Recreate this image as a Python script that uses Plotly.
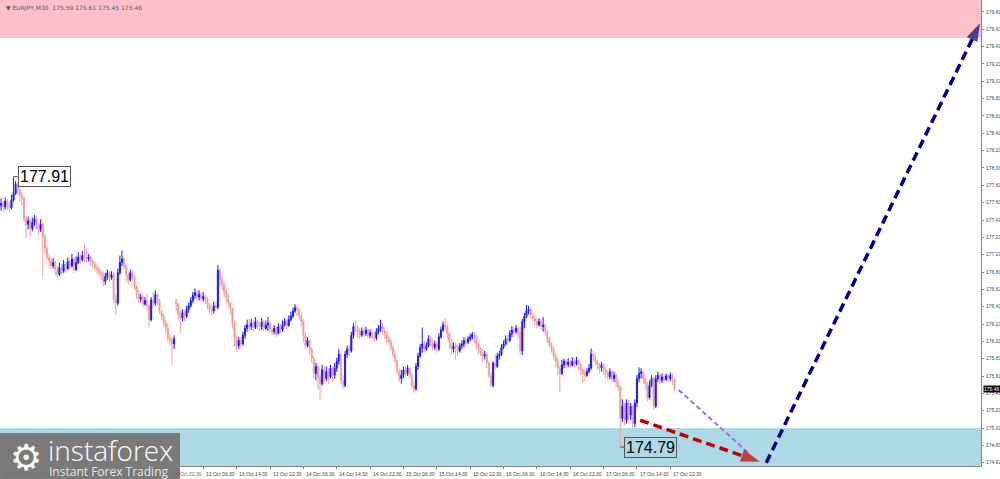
import numpy as np
import pandas as pd
import plotly.graph_objects as go

# EURJPY M30 bars, 9 Oct 06:00 .. 17 Oct 23:30 (weekdays only)
bar_times = pd.date_range("2025-10-09 06:00", "2025-10-17 23:30", freq="30min")
bar_times = bar_times[bar_times.dayofweek < 5]

closes = [
    177.60, 177.56, 177.63, 177.58, 177.55, 177.64, 177.72, 177.82, 177.76, 177.70,
    177.66, 177.42, 177.36, 177.40, 177.31, 177.38, 177.42, 177.35, 177.30, 177.36,
    177.22, 177.08, 176.98, 176.94, 176.88, 176.92, 176.84, 176.78, 176.86, 176.82,
    176.90, 176.85, 176.93, 176.88, 176.96, 176.84, 176.92, 176.98, 176.95, 177.00,
    176.99, 176.96, 176.98, 176.93, 176.90, 176.86, 176.84, 176.80, 176.78, 176.70,
    176.76, 176.80, 176.74, 176.78, 176.50, 176.45, 176.80, 176.92, 176.96, 176.88,
    176.78, 176.72, 176.80, 176.76, 176.64, 176.56, 176.50, 176.52, 176.44, 176.48,
    176.42, 176.26, 176.49, 176.45, 176.55, 176.48, 176.36, 176.30, 176.22, 176.16,
    176.05, 176.02, 175.98, 176.04, 176.44, 176.32, 176.28, 176.34, 176.30, 176.38,
    176.42, 176.48, 176.54, 176.57, 176.52, 176.55, 176.50, 176.53, 176.49, 176.44,
    176.38, 176.36, 176.42, 176.40, 176.83, 176.72, 176.66, 176.58, 176.52, 176.45,
    176.38, 176.22, 176.05, 175.96, 176.02, 175.98, 176.08, 176.16, 176.20, 176.18,
    176.22, 176.17, 176.24, 176.20, 176.18, 176.23, 176.16, 176.20, 176.22, 176.15,
    176.12, 176.16, 176.10, 176.18, 176.14, 176.20, 176.24, 176.19, 176.26, 176.30,
    176.36, 176.40, 176.38, 176.30, 176.24, 176.08, 175.96, 176.02, 175.92, 175.82,
    175.64, 175.72, 175.60, 175.52, 175.68, 175.58, 175.66, 175.60, 175.70, 175.62,
    175.70, 175.78, 175.86, 175.56, 175.50, 175.86, 175.92, 175.90, 176.08, 176.18,
    176.16, 176.12, 176.08, 176.13, 176.10, 176.14, 176.08, 176.11, 176.06, 176.05,
    176.12, 176.16, 176.18, 176.13, 176.10, 176.04, 176.00, 175.94, 175.86, 175.78,
    175.66, 175.58, 175.62, 175.68, 175.64, 175.70, 175.62, 175.50, 175.46, 175.72,
    175.84, 175.94, 175.98, 175.92, 175.96, 176.04, 176.00, 175.94, 175.98, 175.92,
    176.06, 176.14, 176.20, 176.18, 176.10, 176.00, 175.92, 175.96, 175.94, 175.90,
    175.96, 175.98, 176.02, 176.00, 176.04, 176.06, 176.09, 176.06, 175.98, 175.92,
    175.88, 175.84, 175.86, 175.76, 175.62, 175.50, 175.76, 175.72, 175.84, 175.86,
    175.94, 175.98, 176.04, 176.02, 176.10, 176.14, 176.12, 176.16, 176.10, 175.90,
    176.24, 176.30, 176.36, 176.38, 176.32, 176.28, 176.24, 176.20, 176.24, 176.18,
    176.20, 176.12, 176.04, 175.98, 175.92, 175.84, 175.78, 175.70, 175.64, 175.74,
    175.78, 175.74, 175.77, 175.73, 175.78, 175.75, 175.79, 175.74, 175.68, 175.64,
    175.62, 175.66, 175.70, 175.86, 175.84, 175.78, 175.74, 175.70, 175.74, 175.68,
    175.64, 175.60, 175.66, 175.58, 175.62, 175.54, 175.48, 175.12, 175.26, 175.10,
    175.30, 175.16, 175.26, 175.06, 175.30, 175.58, 175.64, 175.66, 175.58, 175.52,
    175.36, 175.50, 175.58, 175.26, 175.58, 175.62, 175.56, 175.60, 175.57, 175.61,
    175.58, 175.62, 175.57, 175.46,
]

highs = [
    177.66, 177.63, 177.67, 177.65, 177.62, 177.70, 177.91, 177.86, 177.84, 177.78,
    177.73, 177.68, 177.46, 177.45, 177.42, 177.44, 177.47, 177.45, 177.38, 177.42,
    177.38, 177.25, 177.12, 177.02, 176.98, 176.97, 176.95, 176.88, 176.92, 176.90,
    176.95, 176.93, 176.98, 176.96, 177.02, 176.98, 176.99, 177.04, 177.02, 177.05,
    177.14, 177.08, 177.02, 177.00, 176.96, 176.93, 176.90, 176.87, 176.84, 176.82,
    176.80, 176.84, 176.82, 176.82, 176.80, 176.55, 176.85, 177.00, 177.06, 176.98,
    176.90, 176.82, 176.84, 176.83, 176.78, 176.66, 176.60, 176.56, 176.54, 176.52,
    176.56, 176.45, 176.52, 176.58, 176.60, 176.57, 176.50, 176.38, 176.33, 176.26,
    176.22, 176.10, 176.06, 176.08, 176.50, 176.46, 176.36, 176.38, 176.36, 176.42,
    176.46, 176.52, 176.58, 176.62, 176.60, 176.60, 176.58, 176.58, 176.55, 176.52,
    176.46, 176.42, 176.47, 176.46, 176.89, 176.85, 176.76, 176.70, 176.62, 176.56,
    176.47, 176.40, 176.25, 176.08, 176.06, 176.06, 176.12, 176.20, 176.26, 176.27,
    176.27, 176.25, 176.29, 176.27, 176.24, 176.28, 176.26, 176.25, 176.29, 176.24,
    176.18, 176.20, 176.18, 176.22, 176.21, 176.25, 176.28, 176.27, 176.31, 176.35,
    176.40, 176.44, 176.43, 176.40, 176.33, 176.27, 176.12, 176.06, 176.04, 175.94,
    175.84, 175.76, 175.76, 175.64, 175.74, 175.72, 175.72, 175.70, 175.74, 175.72,
    175.76, 175.82, 175.92, 175.88, 175.62, 175.90, 175.96, 175.96, 176.12, 176.22,
    176.26, 176.20, 176.16, 176.17, 176.16, 176.18, 176.16, 176.15, 176.13, 176.12,
    176.16, 176.20, 176.26, 176.22, 176.17, 176.13, 176.08, 176.04, 175.97, 175.90,
    175.80, 175.70, 175.68, 175.72, 175.72, 175.74, 175.72, 175.66, 175.54, 175.76,
    175.88, 175.98, 176.17, 176.02, 176.00, 176.08, 176.07, 176.04, 176.02, 176.00,
    176.10, 176.18, 176.24, 176.28, 176.22, 176.12, 176.04, 176.00, 175.99, 175.97,
    175.99, 176.02, 176.06, 176.05, 176.07, 176.10, 176.12, 176.12, 176.08, 176.00,
    175.94, 175.92, 175.90, 175.88, 175.78, 175.66, 175.78, 175.86, 175.88, 175.90,
    175.98, 176.02, 176.08, 176.08, 176.14, 176.19, 176.18, 176.20, 176.18, 176.18,
    176.27, 176.34, 176.43, 176.42, 176.40, 176.34, 176.30, 176.27, 176.28, 176.27,
    176.29, 176.22, 176.14, 176.06, 176.00, 175.95, 175.88, 175.82, 175.74, 175.80,
    175.81, 175.80, 175.82, 175.79, 175.83, 175.81, 175.83, 175.80, 175.76, 175.71,
    175.68, 175.70, 175.75, 175.93, 175.90, 175.86, 175.80, 175.76, 175.77, 175.76,
    175.72, 175.68, 175.70, 175.68, 175.66, 175.64, 175.58, 175.50, 175.34, 175.30,
    175.34, 175.33, 175.30, 175.28, 175.34, 175.62, 175.71, 175.70, 175.68, 175.62,
    175.54, 175.56, 175.62, 175.60, 175.62, 175.66, 175.64, 175.64, 175.63, 175.64,
    175.63, 175.65, 175.64, 175.59,
]

lows = [
    177.52, 177.50, 177.53, 177.52, 177.50, 177.53, 177.62, 177.70, 177.70, 177.62,
    177.58, 177.38, 177.20, 177.30, 177.22, 177.28, 177.34, 177.30, 177.24, 177.27,
    176.75, 177.02, 176.94, 176.86, 176.84, 176.85, 176.77, 176.74, 176.76, 176.78,
    176.80, 176.80, 176.83, 176.83, 176.86, 176.80, 176.82, 176.90, 176.90, 176.93,
    176.92, 176.92, 176.93, 176.88, 176.85, 176.82, 176.79, 176.76, 176.72, 176.64,
    176.66, 176.72, 176.70, 176.72, 176.45, 176.31, 176.42, 176.78, 176.88, 176.84,
    176.70, 176.66, 176.70, 176.72, 176.60, 176.50, 176.45, 176.46, 176.40, 176.42,
    176.36, 176.17, 176.24, 176.40, 176.42, 176.43, 176.33, 176.25, 176.18, 176.10,
    176.00, 175.96, 175.74, 175.92, 176.36, 176.26, 176.11, 176.24, 176.24, 176.28,
    176.34, 176.40, 176.45, 176.50, 176.48, 176.48, 176.46, 176.47, 176.44, 176.38,
    176.32, 176.30, 176.33, 176.36, 176.38, 176.66, 176.60, 176.52, 176.45, 176.40,
    176.32, 176.16, 175.95, 175.89, 175.92, 175.94, 175.96, 176.04, 176.12, 176.12,
    176.14, 176.12, 176.15, 176.15, 176.12, 176.14, 176.12, 176.14, 176.13, 176.10,
    176.08, 176.09, 176.06, 176.09, 176.10, 176.12, 176.18, 176.15, 176.18, 176.24,
    176.28, 176.34, 176.30, 176.26, 176.18, 176.00, 175.92, 175.94, 175.86, 175.76,
    175.58, 175.56, 175.45, 175.33, 175.50, 175.54, 175.55, 175.52, 175.58, 175.54,
    175.58, 175.66, 175.74, 175.52, 175.46, 175.48, 175.82, 175.84, 175.88, 176.04,
    176.12, 176.06, 176.04, 176.06, 176.06, 176.07, 176.04, 176.05, 176.02, 176.00,
    176.02, 176.09, 176.12, 176.08, 176.04, 175.99, 175.96, 175.90, 175.82, 175.74,
    175.62, 175.54, 175.52, 175.58, 175.60, 175.61, 175.58, 175.46, 175.42, 175.44,
    175.68, 175.82, 175.88, 175.88, 175.90, 175.94, 175.96, 175.90, 175.91, 175.88,
    175.90, 176.04, 176.12, 176.14, 176.04, 175.92, 175.86, 175.88, 175.80, 175.84,
    175.88, 175.92, 175.94, 175.96, 175.98, 176.01, 176.03, 175.98, 175.92, 175.86,
    175.84, 175.76, 175.80, 175.70, 175.58, 175.48, 175.48, 175.68, 175.70, 175.80,
    175.84, 175.92, 175.96, 175.97, 176.00, 176.06, 176.06, 176.10, 176.04, 175.86,
    175.85, 176.16, 176.28, 176.32, 176.27, 176.24, 176.19, 176.16, 176.18, 176.14,
    176.12, 176.08, 175.99, 175.94, 175.88, 175.80, 175.72, 175.62, 175.42, 175.62,
    175.70, 175.70, 175.71, 175.70, 175.72, 175.71, 175.73, 175.67, 175.62, 175.53,
    175.55, 175.60, 175.64, 175.68, 175.78, 175.74, 175.68, 175.64, 175.66, 175.62,
    175.58, 175.56, 175.57, 175.54, 175.54, 175.48, 175.44, 174.79, 175.08, 175.04,
    175.06, 175.08, 175.10, 175.01, 175.02, 175.25, 175.54, 175.58, 175.52, 175.46,
    175.32, 175.34, 175.48, 175.22, 175.24, 175.54, 175.52, 175.53, 175.53, 175.55,
    175.54, 175.55, 175.50, 175.44,
]

first_open = 177.58
monday_gap_open = 176.49   # 13 Oct 00:00, price gapped after the weekend

# forecast zones
resistance_zone = [179.51, 180.10]
support_zone = [174.40, 175.01]

# forecast paths: (bar number, price)
purple_path = [(325, 175.45), (358.5, 174.72)]
red_path = [(306.5, 175.10), (364, 174.62)]
navy_path = [(367, 174.61), (469.5, 179.68)]

y_ticks = [round(174.61 + 0.2 * k, 2) for k in range(27)]
label_times = ["06:30", "14:30", "22:30"]

# ------------------------------------------------------------------
idx = list(range(len(closes)))
opens = [first_open] + closes[:-1]
gap_bar = list(bar_times).index(pd.Timestamp("2025-10-13 00:00"))
opens[gap_bar] = monday_gap_open
highs = [max(h, o, c) for h, o, c in zip(highs, opens, closes)]
lows = [min(l, o, c) for l, o, c in zip(lows, opens, closes)]
i_hi = highs.index(max(highs))
i_lo = lows.index(min(lows))

fig = go.Figure()

fig.add_trace(go.Candlestick(
    x=idx, open=opens, high=highs, low=lows, close=closes,
    increasing=dict(line=dict(color="#1a1aff", width=1), fillcolor="#0000ff"),
    decreasing=dict(line=dict(color="#f2a0a0", width=1), fillcolor="#f08a8a"),
    whiskerwidth=0,
))

def add_path(path, color, width, dash, head):
    xs = [p[0] for p in path]
    ys = [p[1] for p in path]
    fig.add_trace(go.Scatter(
        x=xs, y=ys, mode="lines+markers" if head else "lines",
        line=dict(color=color, width=width, dash=dash),
        marker=dict(symbol="arrow", size=[0, head], angleref="previous",
                    color=color, line=dict(width=0)),
        cliponaxis=False, hoverinfo="skip",
    ))

add_path(purple_path, "#9b6fe0", 2, "5px,3px", 0)
add_path(red_path, "#c00000", 3.5, "9px,5px", 20)
add_path(navy_path, "#000080", 3.5, "9px,5px", 19)

LOGO_W = 180 / 981
shapes = [
    dict(type="rect", xref="paper", yref="y", x0=0, x1=1,
         y0=resistance_zone[0], y1=resistance_zone[1],
         fillcolor="#ffc0cb", line=dict(width=0), layer="below"),
    dict(type="rect", xref="paper", yref="y", x0=0, x1=1,
         y0=support_zone[0], y1=support_zone[1],
         fillcolor="#add8e6", line=dict(width=0), layer="below"),
    # connectors for the extreme labels
    dict(type="line", x0=i_hi, x1=i_hi + 2, y0=highs[i_hi], y1=highs[i_hi],
         line=dict(color="#555", width=1)),
    dict(type="line", x0=i_lo, x1=i_lo + 2, y0=lows[i_lo], y1=lows[i_lo],
         line=dict(color="#555", width=1)),
    # logo plate
    dict(type="rect", xref="paper", yref="paper", x0=0, x1=LOGO_W,
         y0=-13 / 466, y1=33 / 466, fillcolor="#7a7a7a",
         line=dict(width=0), layer="above"),
]

annotations = [
    dict(x=i_hi + 2, y=highs[i_hi], text=f"{highs[i_hi]:.2f}", showarrow=False,
         xanchor="left",
         font=dict(family="Liberation Sans", size=16, color="black"),
         bgcolor="white", bordercolor="#555", borderwidth=1, borderpad=1),
    dict(x=i_lo + 2, y=lows[i_lo], text=f"{lows[i_lo]:.2f}", showarrow=False,
         xanchor="left",
         font=dict(family="Liberation Sans", size=16, color="black"),
         bordercolor="#555", borderwidth=1, borderpad=1),
    dict(xref="paper", yref="paper", x=0.004, y=0.995, xanchor="left", yanchor="top",
         text="▼ EURJPY,M30  175.59 175.61 175.45 175.46", showarrow=False,
         font=dict(family="DejaVu Sans", size=6, color="#555")),
    dict(xref="paper", yref="y", x=1.002, y=closes[-1], xanchor="left",
         text=f"{closes[-1]:.2f}", showarrow=False, bgcolor="black", borderpad=0,
         font=dict(family="Liberation Sans", size=5, color="white")),
]

# time labels, left aligned at their tick like the terminal does
tick_idx = [i for i, t in enumerate(bar_times) if t.strftime("%H:%M") in label_times]
for i in tick_idx:
    t = bar_times[i]
    under_logo = i < LOGO_W * 470
    annotations.append(dict(
        x=i + 0.3, xref="x", yref="paper", y=-0.006, xanchor="left", yanchor="top",
        text=f"{t.day} {t:%b %H:%M}", showarrow=False,
        font=dict(family="Liberation Sans", size=5,
                  color="#6c6c6c" if under_logo else "#444")))

# logo texts
annotations += [
    dict(xref="paper", yref="paper", x=8 / 981, y=(466 - 457) / 466,
         xanchor="left", yanchor="middle", text="⚙", showarrow=False,
         font=dict(family="DejaVu Sans", size=36, color="white")),
    dict(xref="paper", yref="paper", x=46 / 981, y=(466 - 450) / 466,
         xanchor="left", yanchor="middle", text="instaforex", showarrow=False,
         font=dict(family="Open Sans", size=28, color="white", weight=300)),
    dict(xref="paper", yref="paper", x=47 / 981, y=(466 - 471) / 466,
         xanchor="left", yanchor="middle", text="Instant Forex Trading",
         showarrow=False, font=dict(family="Open Sans", size=12, color="#e8e8e8")),
]

fig.update_layout(
    width=1000, height=479,
    margin=dict(l=0, r=19, t=0, b=13, autoexpand=False),
    paper_bgcolor="white", plot_bgcolor="white",
    showlegend=False,
    shapes=shapes, annotations=annotations,
    xaxis=dict(range=[-0.5, 470], rangeslider=dict(visible=False),
               showgrid=False, zeroline=False, showline=True, linecolor="#888",
               tickvals=tick_idx, ticks="outside", ticklen=2, tickcolor="#888",
               showticklabels=False),
    yaxis=dict(range=[174.572, 179.948], side="right", showgrid=False,
               zeroline=False, showline=True, linecolor="#888",
               tickvals=y_ticks, ticktext=[f"{v:.2f}" for v in y_ticks],
               ticks="outside", ticklen=2, tickcolor="#888", ticklabelstandoff=1,
               tickfont=dict(family="Liberation Sans", size=5, color="#444")),
)

# the page keeps the browser's default 8px body margin otherwise
fig.write_html("out.html", config={"displayModeBar": False},
               post_script="document.body.style.margin='0px';")
